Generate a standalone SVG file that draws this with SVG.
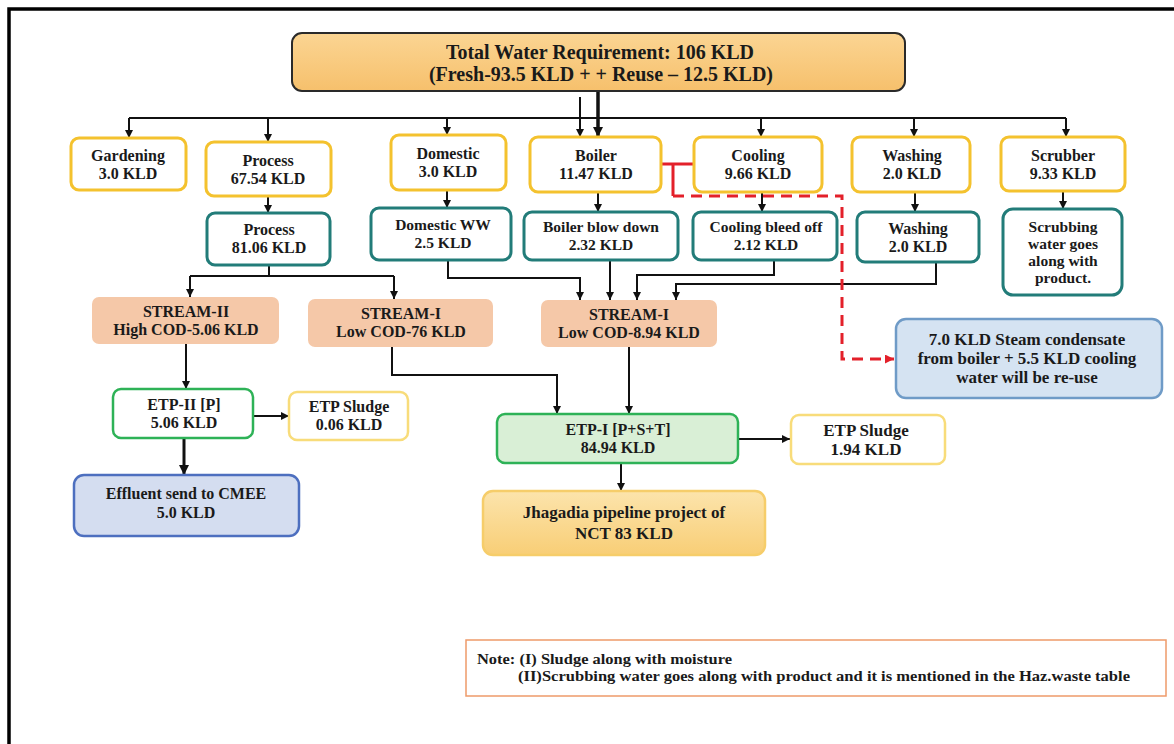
<svg xmlns="http://www.w3.org/2000/svg" width="1174" height="744" viewBox="0 0 1174 744">
<defs>
<marker id="ah" viewBox="0 0 10 10" refX="10" refY="5" markerWidth="8" markerHeight="8" markerUnits="userSpaceOnUse" orient="auto"><path d="M0,0 L10,5 L0,10 z" fill="#111"/></marker>
<marker id="ahb" viewBox="0 0 10 10" refX="10" refY="5" markerWidth="10" markerHeight="10" markerUnits="userSpaceOnUse" orient="auto"><path d="M0,0 L10,5 L0,10 z" fill="#111"/></marker>
<marker id="ahr" viewBox="0 0 10 10" refX="10" refY="5" markerWidth="9" markerHeight="9" markerUnits="userSpaceOnUse" orient="auto"><path d="M0,0 L10,5 L0,10 z" fill="#E3202A"/></marker>
<linearGradient id="gTop" x1="0" y1="0" x2="0" y2="1"><stop offset="0" stop-color="#FBD593"/><stop offset="1" stop-color="#F6C06C"/></linearGradient>
<linearGradient id="gJh" x1="0" y1="0" x2="0" y2="1"><stop offset="0" stop-color="#FCE4AC"/><stop offset="1" stop-color="#F8CE76"/></linearGradient>
</defs>
<style>
text{font-family:"Liberation Serif","Times New Roman",serif;font-weight:bold;fill:#1a1a1a;text-anchor:middle;font-size:16px}
.t{font-size:20px}
.s{font-size:15.5px}
.b{font-size:17px}
.n{font-size:15px;text-anchor:start}
.yel{fill:#fff;stroke:#F4C22E;stroke-width:3}
.teal{fill:#fff;stroke:#227C79;stroke-width:3}
.peach{fill:#F5C8A8;stroke:none}
.grn{stroke:#2EB257;stroke-width:2.5}
.lyel{fill:#fff;stroke:#F8DC7A;stroke-width:2.5}
.c{fill:none;stroke:#111;stroke-width:2;marker-end:url(#ah)}
.cl{fill:none;stroke:#111;stroke-width:2}
</style>
<rect width="1174" height="744" fill="#fff"/>
<g id="frame"><path d="M9,744 V9 H1174" fill="none" stroke="#000" stroke-width="3.5"/></g>

<g id="connectors">
<path class="cl" d="M129,118 H1066"/>
<path class="c" d="M129,118 V138"/>
<path class="c" d="M268,118 V142"/>
<path class="c" d="M447,118 V135"/>
<path class="c" d="M761,118 V137"/>
<path class="c" d="M914,118 V137"/>
<path class="c" d="M1066,118 V137"/>
<path d="M598,91 V137" fill="none" stroke="#111" stroke-width="3.5" marker-end="url(#ahb)"/>
<path class="c" d="M580,97 V137" stroke-width="1.2"/>
<path class="c" d="M268,196 V213"/>
<path class="c" d="M447,190 V208"/>
<path class="c" d="M598,192 V212"/>
<path class="c" d="M762,192 V212"/>
<path class="c" d="M915,192 V212"/>
<path class="c" d="M1063,191 V209"/>
<path class="cl" d="M269,265 V276 M190,276 H394"/>
<path class="c" d="M190,276 V297"/>
<path class="c" d="M394,276 V299"/>
<path class="c" d="M448,260 V278 H580 V300"/>
<path class="c" d="M610,261 V300"/>
<path class="c" d="M774,260 V275 H637 V300"/>
<path class="c" d="M936,262 V284 H676 V300"/>
<path class="c" d="M186,344 V389"/>
<path class="c" d="M392,347 V375 H557 V414"/>
<path class="c" d="M629,347 V414"/>
<path class="c" d="M253,416 H289"/>
<path d="M184,438 V475" fill="none" stroke="#111" stroke-width="3" marker-end="url(#ahb)"/>
<path class="c" d="M738,439 H790"/>
<path class="c" d="M621,463 V491"/>
<path d="M661,164 H693 M673,164 V196" fill="none" stroke="#E3202A" stroke-width="3"/>
<path d="M673,196 H842 V359 H894" fill="none" stroke="#E3202A" stroke-width="3" stroke-dasharray="11,7" marker-end="url(#ahr)"/>
</g>

<g id="n-total"><rect x="292" y="33" width="613" height="58" rx="10" fill="url(#gTop)" stroke="#2a2a2a" stroke-width="2"/>
<text class="t" x="600" y="59">Total Water Requirement: 106 KLD</text>
<text class="t" x="601" y="81">(Fresh-93.5 KLD + + Reuse – 12.5 KLD)</text></g>

<g id="n-gardening"><rect class="yel" x="71" y="138" width="115" height="52" rx="8"/>
<text x="128" y="161">Gardening</text><text x="128" y="179">3.0 KLD</text></g>
<g id="n-process1"><rect class="yel" x="206" y="142" width="125" height="54" rx="8"/>
<text x="268" y="166">Process</text><text x="268" y="184">67.54 KLD</text></g>
<g id="n-domestic"><rect class="yel" x="391" y="135" width="115" height="55" rx="8"/>
<text x="448" y="159">Domestic</text><text x="448" y="177">3.0 KLD</text></g>
<g id="n-boiler"><rect class="yel" x="530" y="137" width="131" height="55" rx="8"/>
<text x="596" y="161">Boiler</text><text x="596" y="179">11.47 KLD</text></g>
<g id="n-cooling"><rect class="yel" x="694" y="137" width="128" height="55" rx="8"/>
<text x="758" y="161">Cooling</text><text x="758" y="179">9.66 KLD</text></g>
<g id="n-washing"><rect class="yel" x="852" y="137" width="118" height="55" rx="8"/>
<text x="912" y="161">Washing</text><text x="912" y="179">2.0 KLD</text></g>
<g id="n-scrubber"><rect class="yel" x="1001" y="137" width="124" height="54" rx="8"/>
<text x="1063" y="161">Scrubber</text><text x="1063" y="179">9.33 KLD</text></g>

<g id="n-process2"><rect class="teal" x="207" y="213" width="123" height="52" rx="8"/>
<text x="269" y="235">Process</text><text x="269" y="253">81.06 KLD</text></g>
<g id="n-domww"><rect class="teal" x="371" y="208" width="140" height="52" rx="8"/>
<text class="s" x="443" y="230">Domestic WW</text><text class="s" x="443" y="248">2.5 KLD</text></g>
<g id="n-blowdown"><rect class="teal" x="524" y="212" width="154" height="48" rx="8"/>
<text class="s" x="601" y="232">Boiler blow down</text><text class="s" x="601" y="250">2.32 KLD</text></g>
<g id="n-bleed"><rect class="teal" x="693" y="212" width="144" height="48" rx="8"/>
<text class="s" x="766" y="232">Cooling bleed off</text><text class="s" x="766" y="250">2.12 KLD</text></g>
<g id="n-washing2"><rect class="teal" x="857" y="212" width="122" height="50" rx="8"/>
<text x="918" y="234">Washing</text><text x="918" y="252">2.0 KLD</text></g>
<g id="n-scrubbing"><rect class="teal" x="1003" y="209" width="119" height="86" rx="10"/>
<text class="s" x="1063" y="232">Scrubbing</text><text class="s" x="1063" y="249">water goes</text><text class="s" x="1063" y="266">along with</text><text class="s" x="1063" y="283">product.</text></g>

<g id="n-stream2"><rect class="peach" x="92" y="297" width="187" height="47" rx="7"/>
<text x="186" y="317">STREAM-II</text><text x="186" y="335">High COD-5.06 KLD</text></g>
<g id="n-stream1a"><rect class="peach" x="308" y="299" width="185" height="48" rx="7"/>
<text x="401" y="319">STREAM-I</text><text x="401" y="337">Low COD-76 KLD</text></g>
<g id="n-stream1b"><rect class="peach" x="541" y="300" width="176" height="47" rx="7"/>
<text x="629" y="320">STREAM-I</text><text x="629" y="338">Low COD-8.94 KLD</text></g>

<g id="n-reuse"><rect x="896" y="319" width="266" height="79" rx="10" fill="#D5E3F2" stroke="#6F9BC7" stroke-width="2.5"/>
<text class="b" x="1027" y="345">7.0 KLD Steam condensate</text><text class="b" x="1027" y="364">from boiler + 5.5 KLD cooling</text><text class="b" x="1027" y="383">water will be re-use</text></g>

<g id="n-etp2"><rect class="grn" fill="#fff" x="113" y="389" width="140" height="49" rx="8"/>
<text x="184" y="410">ETP-II [P]</text><text x="184" y="428">5.06 KLD</text></g>
<g id="n-sludge1"><rect class="lyel" x="289" y="392" width="119" height="48" rx="8"/>
<text x="349" y="412">ETP Sludge</text><text x="349" y="430">0.06 KLD</text></g>
<g id="n-effluent"><rect x="74" y="475" width="225" height="61" rx="10" fill="#D4DDF0" stroke="#4D6FBF" stroke-width="2.5"/>
<text x="186" y="499">Effluent send to CMEE</text><text x="186" y="518">5.0 KLD</text></g>

<g id="n-etp1"><rect class="grn" fill="#D9EFD6" x="497" y="414" width="241" height="49" rx="8"/>
<text x="618" y="435">ETP-I [P+S+T]</text><text x="618" y="453">84.94 KLD</text></g>
<g id="n-sludge2"><rect class="lyel" x="791" y="415" width="154" height="49" rx="8"/>
<text class="b" x="866" y="436">ETP Sludge</text><text class="b" x="866" y="455">1.94 KLD</text></g>
<g id="n-jhagadia"><rect x="483" y="491" width="282" height="64" rx="10" fill="url(#gJh)" stroke="#F6CD6A" stroke-width="2.5"/>
<text class="b" x="624" y="518">Jhagadia pipeline project of</text><text class="b" x="624" y="539">NCT 83 KLD</text></g>

<g id="n-note"><rect x="466" y="640" width="700" height="56" fill="#fff" stroke="#EE9A6A" stroke-width="1.5"/>
<text class="n" x="477" y="664" textLength="255" lengthAdjust="spacingAndGlyphs">Note: (I) Sludge along with moisture</text>
<text class="n" x="518" y="681" textLength="612" lengthAdjust="spacingAndGlyphs">(II)Scrubbing water goes along with product and it is mentioned in the Haz.waste table</text></g>
</svg>
